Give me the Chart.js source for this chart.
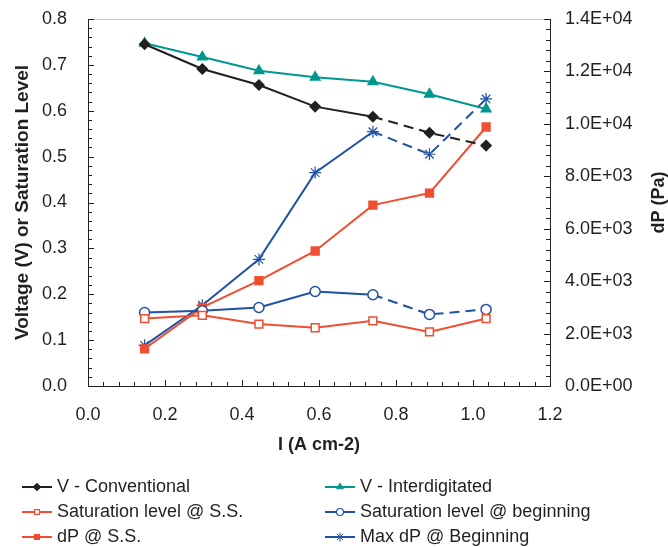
<!DOCTYPE html>
<html>
<head>
<meta charset="utf-8">
<script src="https://cdn.jsdelivr.net/npm/chart.js@4"></script>
<style>
  html, body { margin: 0; padding: 0; background: #fff; }
  #wrap { width: 668px; height: 547px; }
</style>
</head>
<body>
<div id="wrap"><canvas id="myChart" width="668" height="547"></canvas></div>
<script>
// current density I (A cm-2)
const currentDensity = [0.147, 0.297, 0.444, 0.590, 0.740, 0.887, 1.034]

// left axis: voltage / saturation level
const vConventional = [0.745, 0.691, 0.656, 0.609, 0.587, 0.552, 0.524]
const vInterdigitated = [0.747, 0.717, 0.687, 0.673, 0.663, 0.636, 0.604]
const satSteadyState = [0.147, 0.154, 0.135, 0.127, 0.142, 0.118, 0.147]
const satBeginning = [0.160, 0.164, 0.171, 0.206, 0.199, 0.156, 0.167]

// right axis: pressure drop (Pa)
const dpSteadyState = [1420, 3000, 4020, 5150, 6900, 7360, 9880]
const maxDpBeginning = [1550, 3080, 4830, 8140, 9700, 8840, 10950]

const seriesNames = ['V - Conventional', 'V - Interdigitated', 'Saturation level @ S.S.',
    'Saturation level @ beginning', 'dP @ S.S.', 'Max dP @ Beginning']

const leftTicks = { min: 0, max: 0.8, step: 0.1, minor: 0.02 }
const rightTicks = { min: 0, max: 14000, step: 2000, minor: 400 }
const bottomTicks = { min: 0, max: 1.2, step: 0.2, minor: 0.04 }

const ink = '#231f20'
const black = '#231f20'
const teal = '#00978f'
const red = '#f04e30'
const blue = '#1f51a5'
const fontFamily = '"Liberation Sans", Arial, sans-serif'

const toPoints = values => currentDensity.map((x, i) => ({ x: x, y: values[i] }))
const dashedTail = ctx => ctx.p0DataIndex >= 4 ? [10, 6] : undefined

const makeSet = (label, values, color, style, extra) => Object.assign({
    label: label,
    data: toPoints(values),
    borderColor: color,
    backgroundColor: color,
    pointBorderColor: color,
    pointBackgroundColor: color,
    borderWidth: 2,
    pointStyle: style,
    pointRadius: 4.5,
    pointBorderWidth: 1.5,
    yAxisID: 'y',
    tension: 0
}, extra || {})

const datasets = [
    makeSet(seriesNames[0], vConventional, black, 'rectRot', { pointRadius: 5, segment: { borderDash: dashedTail } }),
    makeSet(seriesNames[1], vInterdigitated, teal, 'triangle', { pointRadius: 5.5 }),
    makeSet(seriesNames[2], satSteadyState, red, 'rect', { pointRadius: 5.5, pointBackgroundColor: '#fff' }),
    makeSet(seriesNames[3], satBeginning, blue, 'circle', { pointRadius: 5, pointBackgroundColor: '#fff', segment: { borderDash: dashedTail } }),
    makeSet(seriesNames[4], dpSteadyState, red, 'rect', { yAxisID: 'y1', pointRadius: 5.5 }),
    makeSet(seriesNames[5], maxDpBeginning, blue, 'star', { yAxisID: 'y1', pointRadius: 6, pointBorderWidth: 1.2, segment: { borderDash: dashedTail } })
]

// inward tick marks, top frame line and the right axis title
const axisTicks = {
    id: 'axisTicks',
    afterDraw(chart) {
        const c = chart.ctx
        const a = chart.chartArea
        c.save()
        c.strokeStyle = '#c8c8c8'
        c.lineWidth = 1
        c.beginPath()
        c.moveTo(a.left, a.top + 0.5)
        c.lineTo(a.right, a.top + 0.5)
        c.stroke()
        c.strokeStyle = ink
        const mark = (cfg, scale, draw) => {
            const n = Math.round((cfg.max - cfg.min) / cfg.minor)
            for (let i = 0; i <= n; i++) {
                const v = cfg.min + i * cfg.minor
                const major = Math.abs(v / cfg.step - Math.round(v / cfg.step)) < 1e-6
                draw(Math.round(scale.getPixelForValue(v)) + 0.5, major ? 6 : 4)
            }
        }
        c.beginPath()
        mark(leftTicks, chart.scales.y, (p, len) => { c.moveTo(a.left, p); c.lineTo(a.left + len, p) })
        mark(rightTicks, chart.scales.y1, (p, len) => { c.moveTo(a.right, p); c.lineTo(a.right - len, p) })
        mark(bottomTicks, chart.scales.x, (p, len) => { c.moveTo(p, a.bottom); c.lineTo(p, a.bottom - len) })
        c.stroke()

        c.translate(659, (a.top + a.bottom) / 2)
        c.rotate(-Math.PI / 2)
        c.fillStyle = ink
        c.font = 'bold 18px ' + fontFamily
        c.textAlign = 'center'
        c.textBaseline = 'middle'
        c.fillText('dP (Pa)', 0, 0)
        c.restore()
    }
}

// two-column legend under the axis title
const columnLegend = {
    id: 'columnLegend',
    afterDraw(chart) {
        const c = chart.ctx
        const colX = [22, 325]
        const rowY = [487, 512, 537]
        c.save()
        chart.data.datasets.forEach((ds, i) => {
            const x0 = colX[i % 2]
            const y = rowY[Math.floor(i / 2)]
            c.strokeStyle = ds.borderColor
            c.lineWidth = 2
            c.setLineDash([])
            c.beginPath()
            c.moveTo(x0, y)
            c.lineTo(x0 + 30, y)
            c.stroke()
            c.fillStyle = ds.pointBackgroundColor
            c.strokeStyle = ds.pointBorderColor
            c.lineWidth = ds.pointStyle === 'star' ? 1 : 1.2
            Chart.helpers.drawPoint(c, {
                pointStyle: ds.pointStyle,
                radius: ds.pointStyle === 'star' ? 4.5 : 3.5,
                rotation: 0,
                borderWidth: c.lineWidth
            }, x0 + 15, y)
            c.fillStyle = ink
            c.font = '18px ' + fontFamily
            c.textBaseline = 'middle'
            c.fillText(ds.label, x0 + 35, y)
        })
        c.restore()
    }
}

Chart.defaults.font.family = fontFamily
Chart.defaults.font.size = 18
Chart.defaults.color = ink

const sciLabel = v => v.toExponential(1).toUpperCase().replace(/E([+-])(\d)$/, 'E$10$2')

// fixed side widths; drop the extra top/bottom padding Chart.js adds for tick padding
const fixWidth = w => s => { s.width = w; s.paddingTop = 0; s.paddingBottom = 0 }

new Chart(document.getElementById('myChart'), {
    type: 'line',
    data: { datasets: datasets },
    options: {
        responsive: false,
        animation: false,
        devicePixelRatio: 1,
        layout: { padding: { top: 19, bottom: 82, left: 0, right: 0 } },
        plugins: { legend: { display: false }, tooltip: { enabled: false } },
        scales: {
            x: {
                type: 'linear',
                min: bottomTicks.min,
                max: bottomTicks.max,
                grid: { display: false, drawTicks: false },
                border: { color: ink, width: 1 },
                ticks: { stepSize: bottomTicks.step, padding: 18, callback: v => v.toFixed(1) },
                title: { display: true, text: 'I (A cm-2)', font: { weight: 'bold', size: 18 }, padding: { top: 0, bottom: 9 } },
                afterFit: s => { s.height = 79 }
            },
            y: {
                position: 'left',
                min: leftTicks.min,
                max: leftTicks.max,
                grid: { display: false, drawTicks: false },
                border: { color: ink, width: 1 },
                ticks: { stepSize: leftTicks.step, padding: 21, callback: v => v.toFixed(1) },
                title: { display: true, text: 'Voltage (V) or Saturation Level', font: { weight: 'bold', size: 19 }, padding: { top: 11, bottom: 0 } },
                afterFit: fixWidth(88)
            },
            y1: {
                position: 'right',
                min: rightTicks.min,
                max: rightTicks.max,
                grid: { display: false, drawTicks: false },
                border: { color: ink, width: 1 },
                ticks: { stepSize: rightTicks.step, padding: 15, callback: sciLabel },
                title: { display: false },
                afterFit: fixWidth(118)
            }
        }
    },
    plugins: [axisTicks, columnLegend]
})
</script>
</body>
</html>
